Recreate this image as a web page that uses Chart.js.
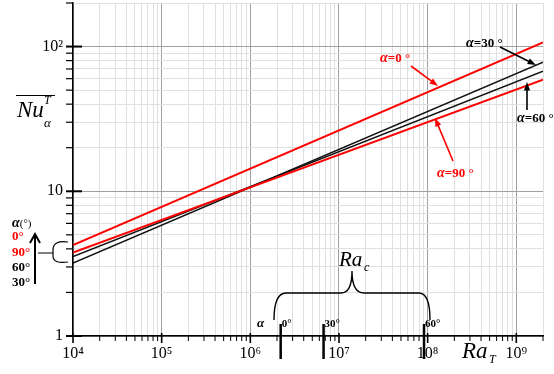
<!DOCTYPE html>
<html>
<head>
<meta charset="utf-8">
<script src="https://cdn.jsdelivr.net/npm/chart.js@4.4.0/dist/chart.umd.min.js"></script>
<style>
html, body { margin: 0; padding: 0; background: #fff; }
#wrap { width: 554px; height: 374px; }
</style>
</head>
<body>
<div id="wrap"><canvas id="myChart" width="554" height="374"></canvas></div>
<script>
// values (endpoints of straight log-log lines)
var raRange = [1e4, 2e9];
var nu0 = [4.25, 107];
var nu30 = [3.19, 77.9];
var nu60 = [3.54, 67.5];
var nu90 = [3.77, 59.1];

// critical Rayleigh numbers marked on the x axis
var raCritical = [2.2e6, 6.7e6, 9.1e7];
var raCriticalLabels = ['0°', '30°', '60°'];

// axis decades
var xDecades = [4, 5, 6, 7, 8, 9];
var yDecades = [0, 1, 2];
var xMax = 2e9, yMax = 200;

var SUP = { '0': '⁰', '1': '¹', '2': '²', '3': '³', '4': '⁴', '5': '⁵', '6': '⁶', '7': '⁷', '8': '⁸', '9': '⁹' };

function buildTicks(decades, max) {
    var out = [];
    decades.forEach(function (d) {
        for (var m = 1; m <= 9; m++) {
            var v = m * Math.pow(10, d);
            if (v <= max * 1.0001) out.push({ value: v, major: m === 1, exp: d });
        }
    });
    return out;
}

function powLabel(exp) {
    if (exp === 0) return '1';
    if (exp === 1) return '10';
    return '10' + String(exp).split('').map(function (c) { return SUP[c]; }).join('');
}

function pts(vals) {
    return raRange.map(function (r, i) { return { x: r, y: vals[i] }; });
}

var RED = '#ff0000';
var SERIF = '"Liberation Serif", "Times New Roman", serif';

// draw a run of text pieces with different fonts
function runs(ctx, x, y, parts) {
    parts.forEach(function (p) {
        ctx.font = p.f;
        ctx.fillStyle = p.c || '#000';
        ctx.fillText(p.t, x, y + (p.dy || 0));
        x += ctx.measureText(p.t).width + (p.gap || 0);
    });
}

function arrow(ctx, x1, y1, x2, y2, color, size) {
    var a = Math.atan2(y2 - y1, x2 - x1);
    size = size || 9;
    ctx.strokeStyle = color;
    ctx.fillStyle = color;
    ctx.lineWidth = 1.6;
    ctx.beginPath();
    ctx.moveTo(x1, y1);
    ctx.lineTo(x2 - Math.cos(a) * size * 0.8, y2 - Math.sin(a) * size * 0.8);
    ctx.stroke();
    ctx.beginPath();
    ctx.moveTo(x2, y2);
    ctx.lineTo(x2 - size * Math.cos(a - 0.35), y2 - size * Math.sin(a - 0.35));
    ctx.lineTo(x2 - size * Math.cos(a + 0.35), y2 - size * Math.sin(a + 0.35));
    ctx.closePath();
    ctx.fill();
}

var decor = {
    id: 'decor',
    afterDraw: function (chart) {
        var ctx = chart.ctx;
        var xs = chart.scales.x, ys = chart.scales.y;
        var area = chart.chartArea;
        ctx.save();

        // tick marks
        ctx.strokeStyle = '#000';
        xs.ticks.forEach(function (t) {
            var px = xs.getPixelForValue(t.value);
            ctx.lineWidth = t.major ? 1.6 : 1;
            ctx.beginPath();
            ctx.moveTo(px, area.bottom - (t.major ? 3 : 0));
            ctx.lineTo(px, area.bottom + (t.major ? 7 : 5));
            ctx.stroke();
        });
        ys.ticks.forEach(function (t) {
            var py = ys.getPixelForValue(t.value);
            ctx.lineWidth = t.major ? 2 : 1.2;
            ctx.beginPath();
            ctx.moveTo(area.left + (t.major ? 9 : 0), py);
            ctx.lineTo(area.left - 7, py);
            ctx.stroke();
        });

        // y title: overline Nu with T and alpha
        ctx.textBaseline = 'alphabetic';
        runs(ctx, 17, 117, [{ t: 'Nu', f: 'italic 23px ' + SERIF }]);
        runs(ctx, 44, 104, [{ t: 'T', f: 'italic 12px ' + SERIF }]);
        runs(ctx, 44, 127, [{ t: 'α', f: 'italic 13px ' + SERIF }]);
        ctx.lineWidth = 1;
        ctx.beginPath();
        ctx.moveTo(16, 95.5);
        ctx.lineTo(55, 95.5);
        ctx.stroke();

        // x title
        runs(ctx, 462, 358, [{ t: 'Ra', f: 'italic 23px ' + SERIF }]);
        runs(ctx, 489, 363, [{ t: 'T', f: 'italic 12px ' + SERIF }]);

        // series labels with arrows
        runs(ctx, 380, 62, [{ t: 'α', f: 'italic bold 14px ' + SERIF, c: RED }, { t: '=0 °', f: 'bold 13px ' + SERIF, c: RED }]);
        arrow(ctx, 411, 66, 438, 86, RED);
        runs(ctx, 437, 177, [{ t: 'α', f: 'italic bold 14px ' + SERIF, c: RED }, { t: '=90 °', f: 'bold 13px ' + SERIF, c: RED }]);
        arrow(ctx, 453, 161, 435, 118, RED);
        runs(ctx, 466, 47, [{ t: 'α', f: 'italic bold 14px ' + SERIF }, { t: '=30 °', f: 'bold 13px ' + SERIF }]);
        arrow(ctx, 500, 47, 536, 65, '#000');
        runs(ctx, 517, 122, [{ t: 'α', f: 'italic bold 14px ' + SERIF }, { t: '=60 °', f: 'bold 13px ' + SERIF }]);
        arrow(ctx, 527, 110, 527, 82, '#000');

        // left legend of order
        runs(ctx, 12, 227, [{ t: 'α', f: 'italic bold 14px ' + SERIF }, { t: '(°)', f: '11px ' + SERIF }]);
        runs(ctx, 12, 240, [{ t: '0°', f: 'bold 13px ' + SERIF, c: RED }]);
        runs(ctx, 12, 256, [{ t: '90°', f: 'bold 13px ' + SERIF, c: RED }]);
        runs(ctx, 12, 271, [{ t: '60°', f: 'bold 13px ' + SERIF }]);
        runs(ctx, 12, 286, [{ t: '30°', f: 'bold 13px ' + SERIF }]);
        ctx.strokeStyle = '#000';
        ctx.lineWidth = 2;
        ctx.beginPath();
        ctx.moveTo(35, 284);
        ctx.lineTo(35, 234);
        ctx.moveTo(30, 243);
        ctx.lineTo(35, 234);
        ctx.lineTo(40, 243);
        ctx.stroke();
        ctx.lineWidth = 1.2;
        ctx.beginPath();
        ctx.moveTo(38, 253);
        ctx.lineTo(53, 253);
        ctx.moveTo(68, 242);
        ctx.quadraticCurveTo(53, 240, 53, 250);
        ctx.lineTo(53, 256);
        ctx.quadraticCurveTo(53, 264, 68, 262);
        ctx.stroke();

        // Ra_c brace and critical values
        ctx.lineWidth = 1.4;
        ctx.beginPath();
        ctx.moveTo(274, 320);
        ctx.quadraticCurveTo(274, 293, 286, 293);
        ctx.lineTo(341, 293);
        ctx.quadraticCurveTo(352, 293, 352, 271);
        ctx.quadraticCurveTo(352, 293, 364, 293);
        ctx.lineTo(419, 293);
        ctx.quadraticCurveTo(430, 293, 430, 320);
        ctx.stroke();
        runs(ctx, 339, 266, [{ t: 'Ra', f: 'italic 21px ' + SERIF }]);
        runs(ctx, 364, 271, [{ t: 'c', f: 'italic 12px ' + SERIF }]);
        runs(ctx, 257, 327, [{ t: 'α', f: 'italic bold 13px ' + SERIF }]);
        raCritical.forEach(function (r, i) {
            var px = xs.getPixelForValue(r);
            ctx.lineWidth = 2.5;
            ctx.beginPath();
            ctx.moveTo(px, area.bottom - 12);
            ctx.lineTo(px, area.bottom + 23);
            ctx.stroke();
            runs(ctx, px + 1, 327, [{ t: raCriticalLabels[i], f: 'bold 11px ' + SERIF }]);
        });
        ctx.restore();
    }
};

var xTicks = buildTicks(xDecades, xMax);
var yTicks = buildTicks(yDecades, yMax);

function gridColor(c) {
    return c.tick && c.tick.major ? '#a0a0a0' : '#e0e0e0';
}

var ctx = document.getElementById('myChart').getContext('2d');
var myChart = new Chart(ctx, {
    type: 'line',
    data: {
        datasets: [
            { label: 'α=0°', data: pts(nu0), borderColor: RED, borderWidth: 2 },
            { label: 'α=90°', data: pts(nu90), borderColor: RED, borderWidth: 2 },
            { label: 'α=30°', data: pts(nu30), borderColor: '#111', borderWidth: 1.5 },
            { label: 'α=60°', data: pts(nu60), borderColor: '#111', borderWidth: 1.5 }
        ]
    },
    options: {
        responsive: false,
        animation: false,
        layout: { padding: { top: 3, right: 11, left: 0, bottom: 0 } },
        elements: { point: { radius: 0 }, line: { tension: 0 } },
        plugins: { legend: { display: false }, tooltip: { enabled: false } },
        scales: {
            x: {
                type: 'logarithmic',
                min: raRange[0],
                max: xMax,
                afterBuildTicks: function (s) { s.ticks = xTicks.map(function (t) { return Object.assign({}, t); }); },
                afterFit: function (s) { s.height = 38; s.paddingLeft = 0; s.paddingRight = 0; },
                grid: { color: gridColor, lineWidth: 1, drawTicks: false },
                border: { color: '#000', width: 1.5 },
                ticks: {
                    autoSkip: false,
                    maxRotation: 0,
                    padding: 8,
                    color: '#000',
                    font: { family: SERIF, size: 16 },
                    callback: function (v, i) { return xTicks[i].major ? powLabel(xTicks[i].exp) : ''; }
                }
            },
            y: {
                type: 'logarithmic',
                min: 1,
                max: yMax,
                afterBuildTicks: function (s) { s.ticks = yTicks.map(function (t) { return Object.assign({}, t); }); },
                afterFit: function (s) { s.width = 73; s.paddingTop = 0; s.paddingBottom = 0; },
                grid: { color: gridColor, lineWidth: 1, drawTicks: false },
                border: { color: '#000', width: 1.5 },
                ticks: {
                    autoSkip: false,
                    padding: 10,
                    color: '#000',
                    font: { family: SERIF, size: 16 },
                    callback: function (v, i) { return yTicks[i].major ? powLabel(yTicks[i].exp) : ''; }
                }
            }
        }
    },
    plugins: [decor]
});
</script>
</body>
</html>
